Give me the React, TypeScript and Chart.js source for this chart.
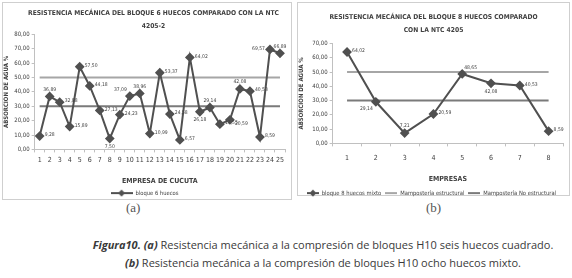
import React, { useEffect, useRef } from 'react';
import { Chart, registerables } from 'chart.js';
Chart.register(...registerables);

// ---------- DATA ----------
const companiesA = ['1','2','3','4','5','6','7','8','9','10','11','12','13','14','15','16','17','18','19','20','21','22','23','24','25'];
const valuesA = [9.28, 36.89, 32.88, 15.89, 57.5, 44.18, 27.13, 7.5, 24.23, 37.09, 38.96, 10.99, 53.37, 24.58, 6.57, 64.02, 26.18, 29.14, 17.55, 20.59, 42.08, 40.53, 8.59, 69.57, 66.89];
const companiesB = ['1','2','3','4','5','6','7','8'];
const valuesB = [64.02, 29.14, 7.21, 20.59, 48.65, 42.08, 40.53, 8.59];
const structuralLimit = 50;
const nonStructuralLimit = 30;
const seriesNameA = 'bloque 6 huecos';
const seriesNameB = 'bloque 8 huecos mixto';
const limitNames = ['Mampostería estructural', 'Mampostería No estructural'];
const titleA = ['RESISTENCIA MECÁNICA DEL BLOQUE 6 HUECOS COMPARADO CON LA NTC', '4205-2'];
const titleB = ['RESISTENCIA MECÁNICA DEL BLOQUE 8 HUECOS COMPARADO', 'CON LA NTC 4205'];
const yTitle = 'ABSORCIÓN DE AGUA %';
const xTitleA = 'EMPRESA DE CUCUTA';
const xTitleB = 'EMPRESAS';

// label placement (style only)
const placeA = ['r','t','r','r','r','r','r','b','r','tl','t','r','r','r','r','r','b','t','r','rb','t','r','r','l','t'];
const placeB = ['r','bl','t','r','tr','b','r','r'];

const FONT = "'DejaVu Sans Condensed', sans-serif";
const DATA_COLOR = '#505050';
const LIGHT = '#a6a6a6';
const DARK = '#7a7a7a';
const AXIS = '#c0c0c0';
const TXT = '#404040';
const TITLE_SIZE = 6.7;
const TITLE_LH = 1.9;

const fmt = (v: number) => v.toFixed(2).replace('.', ',');

function makeIcon(color: string, diamond: boolean, w: number) {
  const c = document.createElement('canvas');
  c.width = w; c.height = 8;
  const ctx = c.getContext('2d')!;
  ctx.strokeStyle = color; ctx.lineWidth = 2;
  ctx.beginPath(); ctx.moveTo(0, 4); ctx.lineTo(w, 4); ctx.stroke();
  if (diamond) {
    const m = w / 2;
    ctx.fillStyle = color;
    ctx.beginPath(); ctx.moveTo(m, 0.5); ctx.lineTo(m + 3.5, 4); ctx.lineTo(m, 7.5); ctx.lineTo(m - 3.5, 4); ctx.closePath(); ctx.fill();
  }
  return c;
}

const labelPlugin = (places: string[], title: string[], titleShift: number) => ({
  id: 'valueLabels',
  afterDatasetsDraw(chart: any) {
    const meta = chart.getDatasetMeta(0);
    const data = chart.data.datasets[0].data as number[];
    const ctx = chart.ctx;
    ctx.save();
    ctx.font = `5px ${FONT}`;
    ctx.fillStyle = TXT;
    ctx.textBaseline = 'middle';
    meta.data.forEach((pt: any, i: number) => {
      const p = places[i] || 'r';
      let x = pt.x, y = pt.y;
      let align: CanvasTextAlign = 'left';
      if (p === 'r') { x += 5; y -= 1; }
      else if (p === 'rb') { x += 5; y += 4; }
      else if (p === 'tr') { x += 2; y -= 6; }
      else if (p === 'l') { x -= 5; align = 'right'; y -= 1; }
      else if (p === 't') { y -= 7; align = 'center'; }
      else if (p === 'tl') { x -= 3; y -= 6; align = 'right'; }
      else if (p === 'b') { y += 8; align = 'center'; }
      else if (p === 'bl') { x -= 3; y += 7; align = 'right'; }
      ctx.textAlign = align;
      ctx.fillText(fmt(data[i]), x, y);
    });
    // chart title (space reserved by the title plugin, drawn here with a horizontal shift)
    const tb = chart.titleBlock;
    ctx.font = `bold ${TITLE_SIZE}px ${FONT}`;
    ctx.textAlign = 'center';
    const lh = TITLE_SIZE * TITLE_LH;
    title.forEach((line, i) => {
      ctx.fillText(line, (tb.left + tb.right) / 2 + titleShift, tb.top + lh * (i + 0.5));
    });
    ctx.restore();
  },
});

function buildConfig(p: any) {
  const icons = [makeIcon(DATA_COLOR, true, p.iconW), makeIcon(LIGHT, false, p.iconW), makeIcon(DARK, false, p.iconW)];
  return {
    type: 'line',
    data: {
      labels: p.labels,
      datasets: [
        { label: p.name, data: p.values, borderColor: DATA_COLOR, backgroundColor: DATA_COLOR, borderWidth: 2, pointStyle: 'rectRot', pointRadius: 3.5, pointBackgroundColor: DATA_COLOR, pointBorderColor: DATA_COLOR, tension: 0 },
        { label: limitNames[0], data: p.labels.map(() => structuralLimit), borderColor: LIGHT, borderWidth: 2, pointRadius: 0, tension: 0 },
        { label: limitNames[1], data: p.labels.map(() => nonStructuralLimit), borderColor: DARK, borderWidth: 2, pointRadius: 0, tension: 0 },
      ],
    },
    options: {
      animation: false,
      responsive: false,
      maintainAspectRatio: false,
      layout: { padding: p.pad },
      plugins: {
        tooltip: { enabled: false },
        title: { display: true, text: p.title, color: 'rgba(0,0,0,0)', font: { family: FONT, size: TITLE_SIZE, weight: 'bold', lineHeight: TITLE_LH }, padding: { top: 0, bottom: p.titleBottom } },
        legend: {
          position: 'bottom',
          labels: {
            usePointStyle: true,
            pointStyleWidth: p.iconW,
            boxHeight: 6,
            padding: p.legendPad,
            color: TXT,
            font: { family: FONT, size: 5.8 },
            generateLabels: (chart: any) => chart.data.datasets.map((ds: any, i: number) => ({ text: ds.label, pointStyle: icons[i], datasetIndex: i, hidden: false, lineWidth: 0, fontColor: TXT })),
            filter: (item: any) => p.showLimits || item.datasetIndex === 0,
          },
        },
      },
      scales: {
        x: {
          type: 'category',
          offset: true,
          grid: { display: true, drawOnChartArea: false, drawTicks: true, tickLength: 3, offset: true, color: AXIS },
          border: { display: true, color: AXIS },
          ticks: { color: TXT, font: { family: FONT, size: 7 }, padding: p.xTickPad, maxRotation: 0, autoSkip: false },
          title: { display: true, text: p.xTitle, color: TXT, font: { family: FONT, size: 7, weight: 'bold' }, padding: { top: p.xTitlePad, bottom: p.xTitleBottom } },
        },
        y: {
          min: 0, max: p.yMax,
          afterFit: (scale: any) => { scale.width += p.yExtra; },
          grid: { display: true, drawOnChartArea: false, drawTicks: true, tickLength: 3, color: AXIS },
          border: { display: true, color: AXIS },
          ticks: { stepSize: 10, color: TXT, font: { family: FONT, size: 6 }, padding: 2, callback: (v: any) => fmt(Number(v)) },
          title: { display: true, text: yTitle, color: TXT, font: { family: FONT, size: 6, weight: 'bold' }, padding: { top: 0, bottom: 2 } },
        },
      },
    },
    plugins: [labelPlugin(p.places, p.title, p.titleShift)],
  } as any;
}

function ChartBox({ cfg, left, top, width, height, canvasH }: any) {
  const ref = useRef<HTMLCanvasElement>(null);
  useEffect(() => {
    const chart = new Chart(ref.current!, cfg());
    return () => chart.destroy();
  }, []);
  return (
    <div style={{ position: 'absolute', left, top, width, height, border: '1px solid #cfcfcf', boxSizing: 'border-box', background: '#fff', overflow: 'visible' }}>
      <canvas ref={ref} width={width - 2} height={canvasH} style={{ position: 'absolute', left: 0, top: 0, display: 'block', width: width - 2, height: canvasH }} />
    </div>
  );
}

export default function App() {
  return (
    <div style={{ position: 'fixed', left: 0, top: 0, width: 572, height: 278, background: '#fff', overflow: 'hidden' }}>
      <div style={{ position: 'absolute', left: 126, top: 200, fontFamily: "'Liberation Serif', serif", fontSize: 13, color: '#555' }}>(a)</div>
      <div style={{ position: 'absolute', left: 426, top: 200, fontFamily: "'Liberation Serif', serif", fontSize: 13, color: '#555' }}>(b)</div>
      <ChartBox left={2} top={2} width={290} height={198} canvasH={203}
        cfg={() => buildConfig({ labels: companiesA, values: valuesA, name: seriesNameA, title: titleA, titleShift: 9, xTitle: xTitleA, yMax: 80, yExtra: 0, places: placeA, showLimits: false, iconW: 22, pad: { left: 0, right: 5, top: 4, bottom: 0 }, titleBottom: 2, legendPad: 3, xTickPad: 4, xTitlePad: 8, xTitleBottom: 2 })} />
      <ChartBox left={297} top={2} width={273} height={194} canvasH={203}
        cfg={() => buildConfig({ labels: companiesB, values: valuesB, name: seriesNameB, title: titleB, titleShift: 2, xTitle: xTitleB, yMax: 70, yExtra: 3, places: placeB, showLimits: true, iconW: 12, pad: { left: 0, right: 4, top: 8, bottom: 0 }, titleBottom: 7, legendPad: 4, xTickPad: 7.5, xTitlePad: 5, xTitleBottom: 3 })} />
      <div style={{ position: 'absolute', left: 67, top: 236, width: 512, textAlign: 'center', fontFamily: "'Open Sans', sans-serif", fontSize: 11, lineHeight: '18px', color: '#3a3a3a', letterSpacing: 0 }}>
        <div><b><i>Figura10. (a)</i></b> Resistencia mecánica a la compresión de bloques H10 seis huecos cuadrado.</div>
        <div><b><i>(b)</i></b> Resistencia mecánica a la compresión de bloques H10 ocho huecos mixto.</div>
      </div>
    </div>
  );
}
